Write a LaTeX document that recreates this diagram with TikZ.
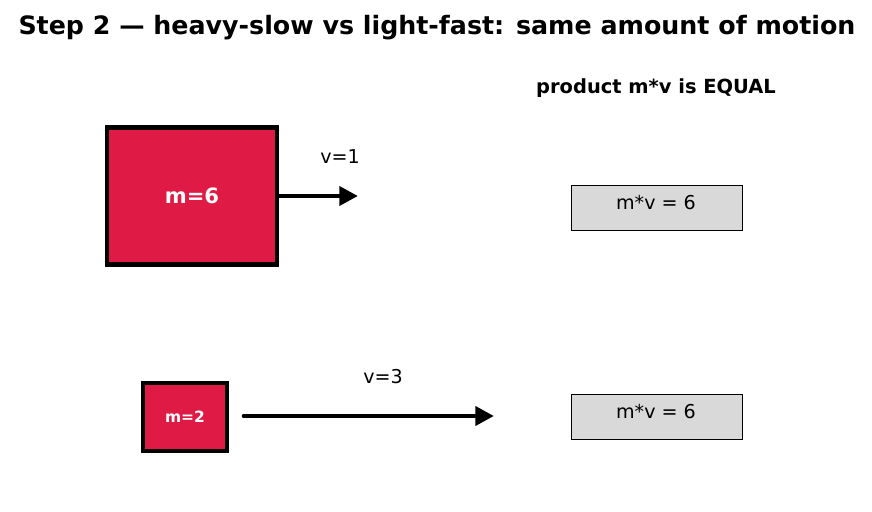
\documentclass[tikz,border=0pt]{standalone}
\usepackage{fontspec}
\setmainfont{DejaVu Sans}
\usepackage{tikz}
\usepackage{xcolor}
\usetikzlibrary{arrows.meta, positioning}
\definecolor{massred}{HTML}{DF1B45}
\definecolor{prodgray}{HTML}{D9D9D9}
\tikzset{
  % Moving masses
  mass/.style={
    draw=black, fill=massred, line width=4.2pt,
    text=white, font=\bfseries, inner sep=0pt,
  },
  % Result boxes on the right
  prodbox/.style={
    draw=black, fill=prodgray, line width=1.4pt,
    minimum width=5.13cm, minimum height=1.35cm, inner sep=0pt,
  },
  % Arrows
  velarr/.style={-{Triangle[length=16pt, width=16pt]}, line width=4pt, line cap=round},
  % Labels
  veltext/.style={font=\fontsize{16.3}{19}\selectfont},
  titletext/.style={font=\fontsize{21.6}{26}\selectfont\bfseries},
}
\begin{document}
\begin{tikzpicture}[x=0.03cm, y=-0.03cm]
  \useasboundingbox (0,0) rectangle (872,512);
  \node[titletext] (title) at (437,28)
    {Step 2 — heavy-slow vs light-fast: same amount of motion};
  \node[font=\fontsize{16.6}{19}\selectfont\bfseries] (equal) at (656,88)
    {product m*v is EQUAL};

  \node[mass, minimum width=5.1cm, minimum height=4.11cm,
    font=\fontsize{18}{21}\selectfont\bfseries] (heavy) at (192,196) {m=6};
  \node[mass, minimum width=2.52cm, minimum height=2.04cm,
    font=\fontsize{13.2}{16}\selectfont\bfseries] (light) at (185,417) {m=2};

  \coordinate (heavytip) at (358,196);
  \coordinate (lightstart) at (244,416);
  \coordinate (lighttip) at (494,416);
  \draw[velarr] (heavy.east) -- (heavytip);
  \draw[velarr] (lightstart) -- (lighttip);
  \node[veltext] (vone) at (340,157) {v=1};
  \node[veltext] (vthree) at (383,377) {v=3};

  \node[prodbox] (prodA) at (657,208) {};
  \node[prodbox] (prodB) at (657,417) {};
  \node[veltext] at (656,203) {m*v = 6};
  \node[veltext] at (656,412) {m*v = 6};
\end{tikzpicture}
\end{document}
